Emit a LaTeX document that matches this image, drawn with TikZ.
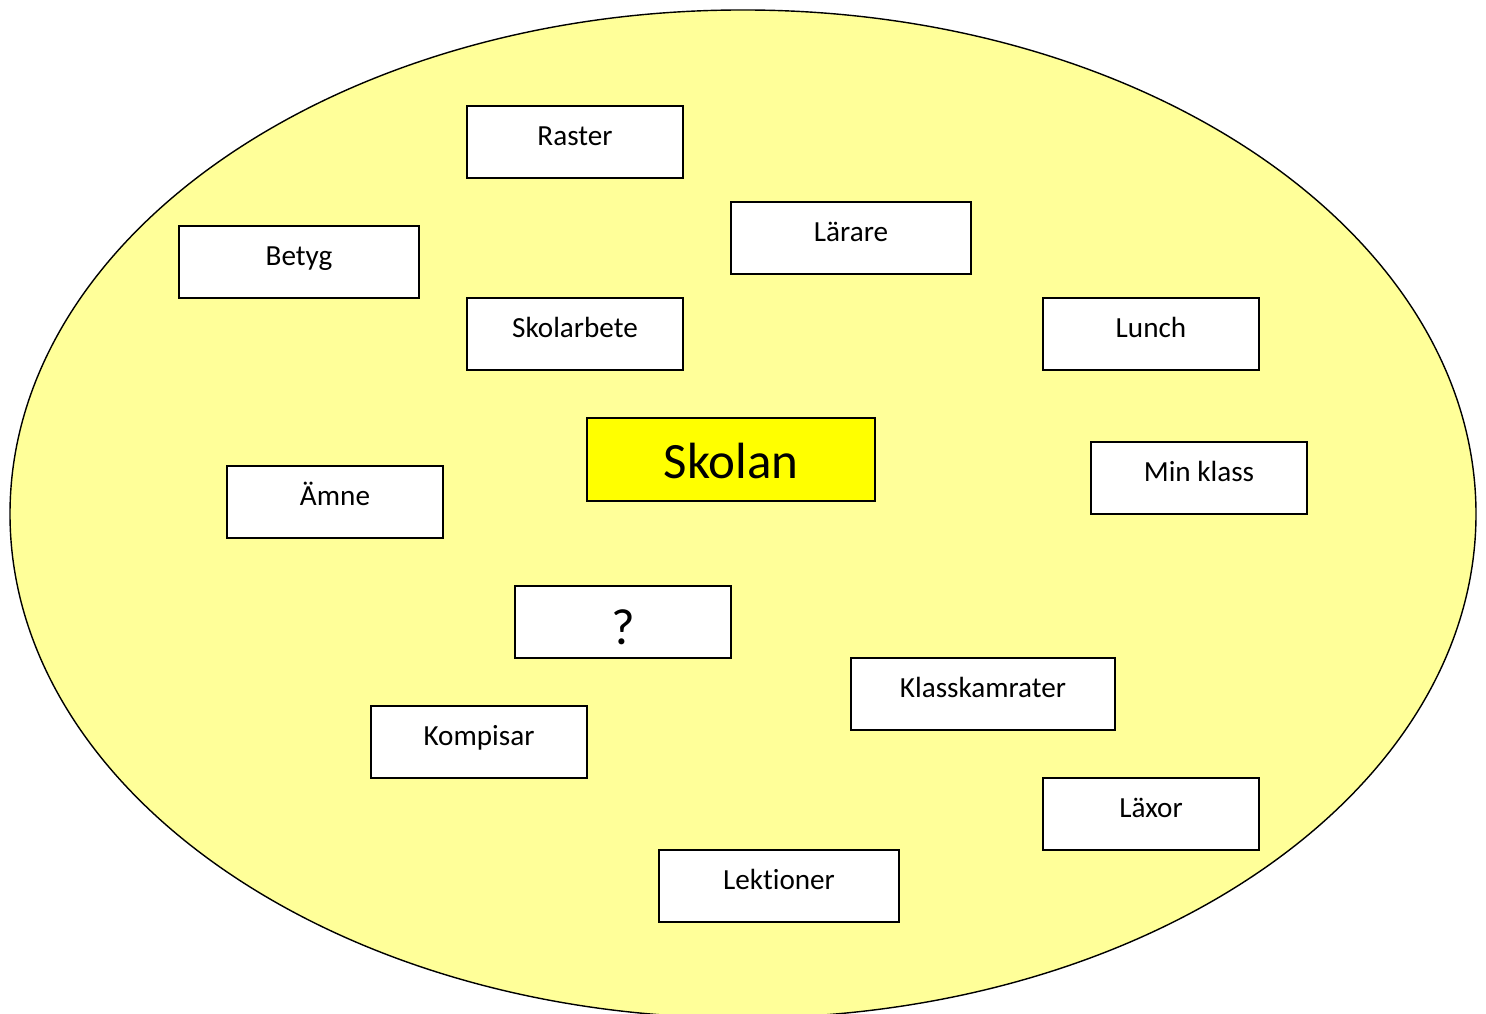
\documentclass[tikz,border=0pt]{standalone}
\usepackage{fontspec}
\setmainfont{Carlito}[Ligatures=NoCommon]
\definecolor{paleyellow}{HTML}{FFFF99}
\definecolor{brightyellow}{HTML}{FFFF00}
\tikzset{
  word/.style={draw=black,line width=0.6pt,fill=white,inner sep=0pt,
    minimum width=2.16cm,minimum height=0.72cm,
    text height=0.26cm,text depth=0.18cm,font=\fontsize{8.3}{10}\selectfont},
  centre/.style={word,fill=brightyellow,minimum width=2.88cm,minimum height=0.83cm,
    text height=0.45cm,text depth=0.06cm,font=\fontsize{14.5}{17}\selectfont}
}
\begin{document}
\begin{tikzpicture}
\useasboundingbox (0,0) rectangle (14.86,10.14);
%\draw[step=1cm,gray,very thin] (0,0) grid (14,10); %background grid

\draw[line width=0.4pt,fill=paleyellow] (7.43,5.00) ellipse (7.33cm and 5.04cm);

\node[word] (raster) at (5.75,8.72) {Raster};
\node[word,minimum width=2.40cm] (larare) at (8.51,7.76) {Lärare};
\node[word,minimum width=2.40cm] (betyg) at (2.99,7.52) {Betyg};
\node[word] (skolarbete) at (5.75,6.80) {Skolarbete};
\node[word] (lunch) at (11.51,6.80) {Lunch};

\node[centre] (skolan) at (7.31,5.545) {Skolan};

\node[word] (minklass) at (11.99,5.36) {Min klass};
\node[word] (amne) at (3.35,5.12) {Ämne};
\node[word,text height=0.49cm,text depth=0.03cm,font=\fontsize{14.5}{17}\selectfont] (fraga) at (6.23,3.92) {?};
\node[word,minimum width=2.64cm] (klasskamrater) at (9.83,3.20) {Klasskamrater};
\node[word] (kompisar) at (4.79,2.72) {Kompisar};
\node[word] (laxor) at (11.51,2.00) {Läxor};
\node[word,minimum width=2.40cm] (lektioner) at (7.79,1.28) {Lektioner};
\end{tikzpicture}
\end{document}
